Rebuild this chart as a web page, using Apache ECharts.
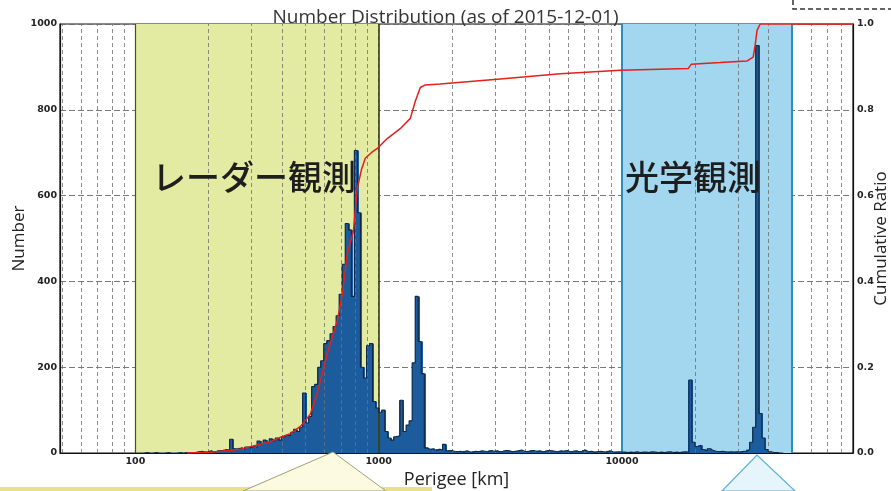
<!DOCTYPE html>
<html><head><meta charset="utf-8">
<script src="https://cdn.jsdelivr.net/npm/echarts@6/dist/echarts.min.js"></script>
<style>html,body{margin:0;padding:0;background:#fff}#c{width:891px;height:491px}</style>
</head><body><div id="c"></div><script>
// ---- data ----
const binsPerDecade = 80;        // log-spaced histogram bins
const binStartKm = 100;          // first bin lower edge (km)
const counts = [
  0,0,0,1,0,0,1,0,0,0,1,0,0,0,1,0,1,0,1,1,
  3,4,2,3,5,2,4,6,5,8,
  7,32,10,9,12,8,14,12,16,13,
  28,22,30,25,33,28,35,30,38,42,
  40,48,55,50,60,
  140,70,85,155,160,
  200,215,255,262,278,295,320,370,440,535,
  520,365,705,560,200,175,250,255,120,105,
  95,100,50,35,30,38,40,123,50,65,
  75,210,365,260,185,
  12,8,10,6,9,7,20,5,6,4,
  3,4,2,5,3,2,4,3,5,4,3,6,4,5,3,4,6,5,3,4,5,7,4,3,5,6,4,5,3,4,
  6,5,4,3,5,4,6,3,4,5,3,4,7,3,4,2,3,4,3,2,5,3,2,3,2,
  2,1,2,1,3,1,2,2,1,3,2,1,2,1,2,3,1,2,1,2,3,2,
  170,25,15,18,8,5,10,6,4,3,4,3,2,3,2,3,2,4,
  4,8,25,60,950,92,35,8,3,1,1,0,0
];
const cumKm    = [163,203,270,359,395,433,477,523,560,615,676,709,743,787,817,849,881,933,987,1084,1226,1349,1414,1483,1554,1790,2378,3159,5576,9840,18700,19250,25300,32700,34600,35250,35900,36970,89000];
const cumRatio = [0,0.002,0.009,0.026,0.037,0.045,0.062,0.09,0.14,0.232,0.309,0.37,0.464,0.517,0.617,0.66,0.687,0.70,0.71,0.733,0.756,0.78,0.82,0.852,0.858,0.86,0.866,0.872,0.884,0.892,0.896,0.906,0.91,0.914,0.923,0.95,0.985,1.0,1.0];
const regionRanges = [[100,1000],[10000,50000]];
const regionNames  = ['レーダー観測','光学観測'];
const xMin = 49, xMax = 89000;
const minorMults = [2,3,4,5,6,7,8,9];
const decades = [10,100,1000,10000];

// ---- derived ----
const bins = counts.map((v,k)=>{
  const lo = binStartKm*Math.pow(10,k/binsPerDecade);
  const hi = binStartKm*Math.pow(10,(k+1)/binsPerDecade);
  return [lo,hi,v];
});
const stepData = bins.map(b=>[b[0],b[2]]);
stepData.push([bins[bins.length-1][1], bins[bins.length-1][2]]);
const gridX = [];
decades.forEach(d=>{ [1].concat(minorMults).forEach(m=>{const v=d*m; if(v>xMin && v<xMax) gridX.push(v);}); });

const chart = echarts.init(document.getElementById('c'));
const gridLineStyle = {color:'#707070', width:0.8, type:[4,3]};
chart.setOption({
  animation:false,
  backgroundColor:'#fff',
  title:{text:'Number Distribution (as of 2015-12-01)', left:'center', top:3,
    textStyle:{fontFamily:'Open Sans', fontSize:19, fontWeight:'normal', color:'#333'}},
  grid:{left:60, right:38, top:24, bottom:38, containLabel:false, outerBoundsMode:'none',
    show:true, borderColor:'#111', borderWidth:1.2, backgroundColor:'transparent'},
  xAxis:{type:'log', logBase:10, min:xMin, max:xMax,
    name:'Perigee [km]', nameLocation:'middle', nameGap:18, nameMoveOverlap:false,
    nameTextStyle:{fontFamily:'Open Sans', fontSize:18, color:'#222'},
    axisLine:{show:true, lineStyle:{color:'#111', width:1.2}}, axisTick:{show:false}, splitLine:{show:false},
    axisLabel:{margin:4, fontFamily:'DejaVu Sans', fontSize:9.5, fontWeight:'bold', color:'#222',
      formatter:v=>{const l=Math.log10(v);return Math.abs(l-Math.round(l))<1e-6?String(Math.round(v)):'';}}},
  yAxis:[
    {type:'value', min:0, max:1000, interval:200, name:'Number', nameLocation:'middle', nameGap:32, nameRotate:90, nameMoveOverlap:false,
      nameTextStyle:{fontFamily:'Open Sans', fontSize:17, color:'#222'},
      axisLine:{show:true, lineStyle:{color:'#111', width:1.2}}, axisTick:{show:false},
      axisLabel:{margin:3, fontFamily:'DejaVu Sans', fontSize:9.5, fontWeight:'bold', color:'#222', formatter:v=>String(v)},
      splitLine:{show:true, lineStyle:{color:'#6a6a6a', width:0.9, type:[6,3]}}},
    {type:'value', min:0, max:1, interval:0.2, name:'Cumulative Ratio', nameLocation:'middle', nameGap:20, nameRotate:90, nameMoveOverlap:false,
      nameTextStyle:{fontFamily:'Open Sans', fontSize:17, color:'#222'},
      axisLine:{show:true, lineStyle:{color:'#111', width:1.2}}, axisTick:{show:false},
      axisLabel:{margin:4, fontFamily:'DejaVu Sans', fontSize:9.5, fontWeight:'bold', color:'#222', formatter:v=>v.toFixed(1)},
      splitLine:{show:false}}
  ],
  series:[
    {type:'line', data:[], z:1, silent:true,
      markArea:{silent:true, data:[
        [{xAxis:regionRanges[0][0], itemStyle:{color:'#e3eba2'}},{xAxis:regionRanges[0][1]}],
        [{xAxis:regionRanges[1][0], itemStyle:{color:'#a3d6ef'}},{xAxis:regionRanges[1][1]}]
      ]}},
    {type:'line', data:[], z:2, silent:true,
      markLine:{silent:true, symbol:'none', label:{show:false}, lineStyle:gridLineStyle,
        data:gridX.map(v=>({xAxis:v}))}},
    {type:'line', data:[], z:3, silent:true,
      markLine:{silent:true, symbol:'none', label:{show:false},
        data:[
          {xAxis:regionRanges[0][0], lineStyle:{color:'#4d5010', width:1.2, type:'solid'}},
          {xAxis:regionRanges[0][1], lineStyle:{color:'#3a3c08', width:1.6, type:'solid'}},
          {xAxis:regionRanges[1][0], lineStyle:{color:'#2a8dba', width:2, type:'solid'}},
          {xAxis:regionRanges[1][1], lineStyle:{color:'#2a8dba', width:2, type:'solid'}}
        ]}},
    {type:'custom', z:4, silent:true, data:bins, encode:{x:[0,1], y:2},
      renderItem:(params, api)=>{
        const lo=api.value(0), hi=api.value(1), v=api.value(2);
        if(!v) return;
        const p0=api.coord([lo,v]), p1=api.coord([hi,0]);
        return {type:'rect', shape:{x:Math.floor(p0[0]), y:p0[1], width:Math.ceil(p1[0]-p0[0])+1, height:p1[1]-p0[1]},
          style:{fill:'#1d5c9c', stroke:null}};
      }},
    {type:'line', z:5, silent:true, data:stepData, step:'end', symbol:'none',
      lineStyle:{color:'#0f2848', width:1.1}},
    {type:'line', z:6, silent:true, yAxisIndex:1, data:cumKm.map((x,i)=>[x,cumRatio[i]]), symbol:'none',
      lineStyle:{color:'#e3201b', width:1.5}}
  ],
  graphic:[
    {type:'text', left:152, top:160, style:{text:regionNames[0], font:'500 34px "Noto Sans CJK JP"', fill:'#1e1e1e'}, z:100},
    {type:'text', left:625, top:160, style:{text:regionNames[1], font:'500 34px "Noto Sans CJK JP"', fill:'#1e1e1e'}, z:100},
    {type:'rect', shape:{x:0,y:487,width:432,height:4}, style:{fill:'#ebe08a'}, z:100},
    {type:'polygon', shape:{points:[[243,491],[333,452],[386,491]]}, style:{fill:'#fcfbe2', stroke:'#9fa070', lineWidth:1}, z:101},
    {type:'polygon', shape:{points:[[722,491],[757,455],[795,491]]}, style:{fill:'#e6f4fb', stroke:'#5ab0d6', lineWidth:1.2}, z:101},
    {type:'polyline', shape:{points:[[793,0],[793,9],[891,9]]}, style:{stroke:'#333', lineWidth:1.5, lineDash:[5,3], fill:null}, z:101}
  ]
});
</script></body></html>
